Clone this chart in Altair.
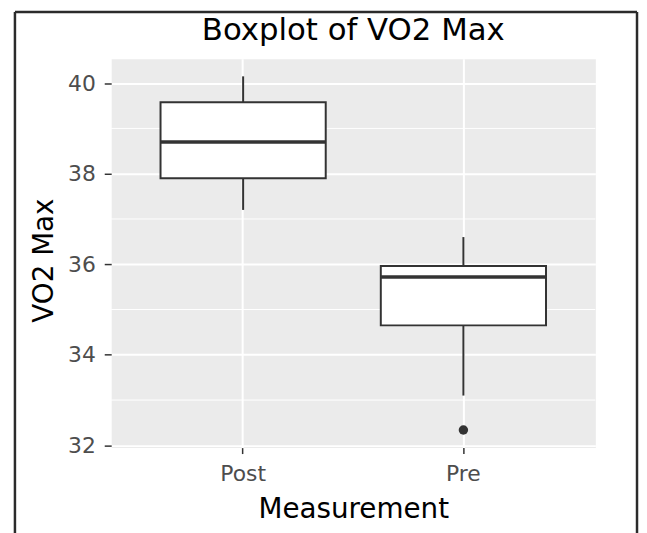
import altair as alt
import pandas as pd

# ---- data ----
categories = ["Post", "Pre"]
whisker_low = [37.2, 33.1]
q1 = [37.9, 34.65]
median = [38.7, 35.72]
q3 = [39.58, 35.96]
whisker_high = [40.15, 36.6]
outlier_cat = ["Pre"]
outlier_val = [32.34]
y_ticks = [32, 34, 36, 38, 40]
y_minor = [33, 35, 37, 39]
y_domain = [31.95, 40.54]
title_text = ["Boxplot of VO2 Max"]

box_df = pd.DataFrame({
    "Measurement": categories,
    "lo": whisker_low,
    "q1": q1,
    "med": median,
    "q3": q3,
    "hi": whisker_high,
})
out_df = pd.DataFrame({"Measurement": outlier_cat, "value": outlier_val})
minor_df = pd.DataFrame({"v": y_minor})
title_df = pd.DataFrame({"t": title_text})

FONT = "DejaVu Sans"
DARK = "#333333"

x_axis = alt.Axis(title="Measurement", labelAngle=0, grid=True, gridColor="white",
                  gridWidth=2, bandPosition=0.5, tickSize=6, labelPadding=10,
                  titlePadding=11)
y_axis = alt.Axis(title="VO2 Max", values=y_ticks, grid=True, gridColor="white",
                  gridWidth=2, tickSize=7, labelPadding=9, titlePadding=9,
                  titleY=203)
x_scale = alt.Scale(paddingInner=0.25, paddingOuter=0.224)
y_scale = alt.Scale(domain=y_domain, nice=False, zero=False)


def X():
    return alt.X("Measurement:N", sort=categories, scale=x_scale, axis=x_axis)


minor = alt.Chart(minor_df).mark_rule(color="white", strokeWidth=1).encode(
    y=alt.Y("v:Q", scale=y_scale, axis=y_axis)
)

whisk = alt.Chart(box_df).mark_rule(color=DARK, strokeWidth=2).encode(
    x=X(),
    y=alt.Y("lo:Q", scale=y_scale, axis=y_axis),
    y2="hi:Q",
)

box = alt.Chart(box_df).mark_bar(fill="white", stroke=DARK, strokeWidth=2).encode(
    x=X(),
    y=alt.Y("q1:Q", scale=y_scale, axis=y_axis),
    y2="q3:Q",
)

med = alt.Chart(box_df).mark_tick(color=DARK, thickness=3.5, size=166,
                                  orient="horizontal", opacity=1).encode(
    x=X(),
    y=alt.Y("med:Q", scale=y_scale, axis=y_axis),
)

outl = alt.Chart(out_df).mark_circle(size=90, color=DARK, opacity=1).encode(
    x=X(),
    y=alt.Y("value:Q", scale=y_scale, axis=y_axis),
)

title = alt.Chart(title_df).mark_text(font=FONT, fontSize=31, color="black",
                                      align="center", baseline="alphabetic").encode(
    text="t:N", x=alt.value(244), y=alt.value(-19)
)

frame_data = alt.Data(values=[{"f": 1}])
border_left = alt.Chart(frame_data).mark_rule(color="#2b2b2b", strokeWidth=2.5).encode(
    x=alt.value(-97), y=alt.value(-47), y2=alt.value(478)
)
border_right = alt.Chart(frame_data).mark_rule(color="#2b2b2b", strokeWidth=2.5).encode(
    x=alt.value(530), y=alt.value(-47), y2=alt.value(478)
)
border_top = alt.Chart(frame_data).mark_rule(color="#2b2b2b", strokeWidth=2.5).encode(
    x=alt.value(-97), x2=alt.value(530), y=alt.value(-47)
)

chart = alt.layer(
    minor, whisk, box, med, outl, title, border_left, border_right, border_top
).properties(
    width=488,
    height=392,
    padding={"left": 5, "top": 0, "right": 0, "bottom": 0},
    background="white",
).configure_view(
    fill="#EBEBEB", stroke="transparent"
).configure_axis(
    domain=False,
    tickColor=DARK,
    tickWidth=1.5,
    labelColor="#4D4D4D",
    labelFont=FONT,
    labelFontSize=22,
    titleFont=FONT,
    titleFontSize=28,
    titleColor="black",
    titleFontWeight="normal",
)

chart.save("out.html", embed_options={"renderer": "svg", "actions": False})
